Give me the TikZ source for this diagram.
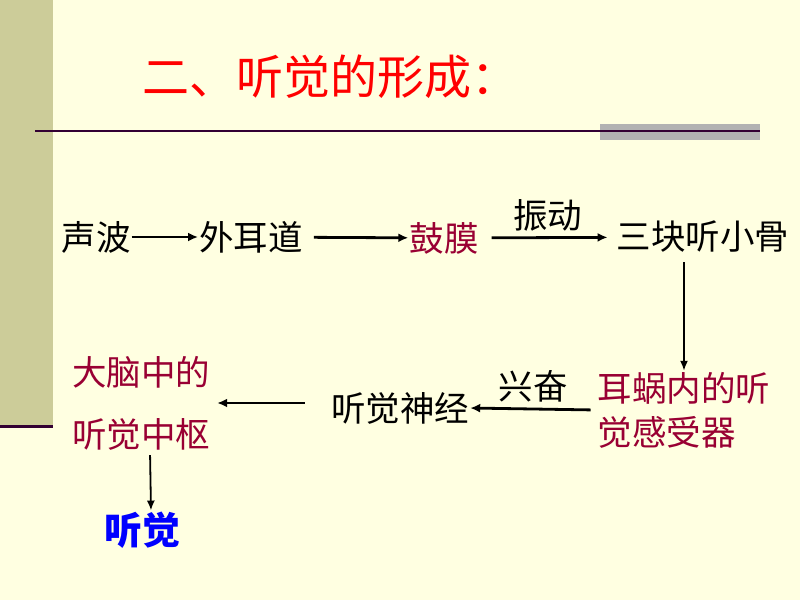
\documentclass[tikz,border=0pt]{standalone}
\usepackage{fontspec}
\newfontfamily\cjk{Noto Sans CJK SC}
\usetikzlibrary{arrows.meta}

\definecolor{bgyellow}{RGB}{255,255,225}
\definecolor{sidebar}{RGB}{204,204,153}
\definecolor{rulepurple}{RGB}{51,0,51}
\definecolor{rulegray}{RGB}{178,178,178}
\definecolor{organred}{RGB}{153,0,51}

\tikzset{
  word/.style={font=\cjk\fontsize{34.5}{40}\selectfont, inner sep=1pt},
  organ/.style={word, text=organred, align=left},
  flow/.style={-{Latex[length=10pt,width=9pt]}, line width=2.8pt},
  thinflow/.style={-{Latex[length=10pt,width=8pt]}, line width=1.8pt},
}

\begin{document}
\begin{tikzpicture}[x=1pt,y=-1pt]

\useasboundingbox (0,0) rectangle (800,600);
\fill[bgyellow] (0,0) rectangle (800,600);

% side bar and rules
\fill[sidebar] (0,0) rectangle (53,425);
\draw[rulepurple, line width=3pt] (0,426) -- (53,426);
\fill[rulegray] (600,124) rectangle (760,140);
\draw[rulepurple, line width=2pt] (35,131) -- (760,131);

\node[font=\cjk\fontsize{47}{50}\selectfont, text=red] (title) at (330,77) {二、听觉的形成：};

% first row
\node[word] (shengbo) at (96,237) {声波};
\node[word] (waier) at (251,237) {外耳道};
\node[word, text=organred] (gumo) at (444,238) {鼓膜};
\node[word] (xiaogu) at (703,237) {三块听小骨};

\draw[flow] (shengbo) -- (waier);
\draw[flow, shorten <=10pt] (waier) -- (gumo);
\draw[flow, shorten <=12pt, shorten >=8pt] (gumo) -- (xiaogu)
  node[word, midway, above=4pt] (zhendong) {振动};

% second row
\node[organ, font=\cjk\fontsize{34.5}{44}\selectfont] (erwo) at (684,410) {耳蜗内的听\\觉感受器};
\node[word] (shenjing) at (400,408) {听觉神经};
\node[organ, font=\cjk\fontsize{34.5}{62}\selectfont] (danao) at (141,403) {大脑中的\\听觉中枢};
\node[word, text=blue, font=\cjk\bfseries\fontsize{38}{40}\selectfont] (tingjue) at (142,530) {听觉};

\draw[thinflow] (xiaogu.south -| erwo.north) ++(0,8) -- (erwo.north);
\draw[flow, shorten <=6pt] (erwo.west) -- (shenjing.east)
  node[word, midway, above=4pt] (xingfen) {兴奋};
\draw[flow, shorten <=25pt, shorten >=6pt] (shenjing.west |- danao) -- (danao);
\draw[thinflow, shorten <=4pt] ([xshift=9pt]danao.south) -- ([xshift=9pt]tingjue.north);

\end{tikzpicture}
\end{document}
